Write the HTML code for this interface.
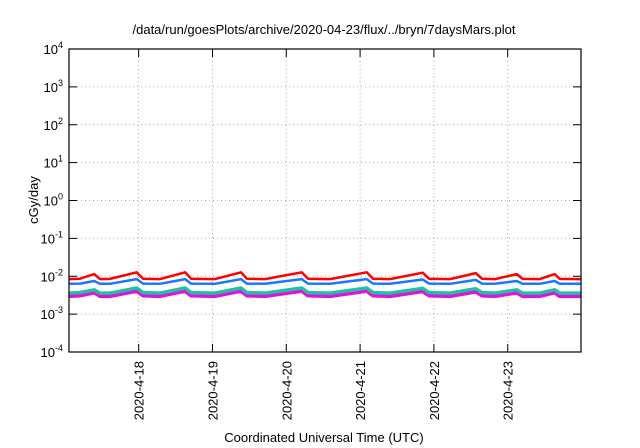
<!DOCTYPE html>
<html><head><meta charset="utf-8"><style>
body{margin:0;background:#fff;}
svg{display:block;font-family:"Liberation Sans",sans-serif;}
</style></head><body>
<svg id="chart" width="640" height="448" viewBox="0 0 640 448" xmlns="http://www.w3.org/2000/svg">
<text x="324" y="34" font-size="13" text-anchor="middle" fill="#000">/data/run/goesPlots/archive/2020-04-23/flux/../bryn/7daysMars.plot</text>
<text transform="translate(38,200) rotate(-90)" font-size="13" text-anchor="middle">cGy/day</text>
<text x="324" y="442" font-size="13" text-anchor="middle">Coordinated Universal Time (UTC)</text>
<g id="grid"></g><g id="series"></g><g id="axes"></g>
</svg>
<script>
const yDecades=[-4,-3,-2,-1,0,1,2,3,4];
const xTickDays=[18,19,20,21,22,23];
const xTickLabels=["2020-4-18","2020-4-19","2020-4-20","2020-4-21","2020-4-22","2020-4-23"];
const times=[17.056,17.205,17.398,17.476,17.611,17.973,18.058,18.289,18.631,18.709,19.034,19.386,19.467,19.711,20.209,20.294,20.592,21.089,21.175,21.405,21.848,21.933,22.218,22.566,22.652,22.828,23.122,23.203,23.434,23.637,23.705,23.993];
const redVals=[0.0084,0.0086,0.0114,0.0084,0.0085,0.0127,0.0086,0.0084,0.0127,0.0086,0.0084,0.0127,0.0086,0.0084,0.0127,0.0086,0.0084,0.0127,0.0086,0.0084,0.0124,0.0086,0.0084,0.0121,0.0086,0.0084,0.0114,0.0085,0.0084,0.0114,0.0085,0.0084];
const blueVals=[0.0063,0.0064,0.0075,0.0063,0.0063,0.0084,0.0064,0.0063,0.0084,0.0064,0.0063,0.0084,0.0064,0.0063,0.0084,0.0064,0.0063,0.0084,0.0064,0.0063,0.0082,0.0064,0.0063,0.0080,0.0064,0.0063,0.0075,0.0063,0.0063,0.0075,0.0063,0.0063];
const greenVals=[0.0036,0.0037,0.0044,0.0036,0.0036,0.0049,0.0037,0.0036,0.0049,0.0037,0.0036,0.0049,0.0037,0.0036,0.0049,0.0037,0.0036,0.0049,0.0037,0.0036,0.0048,0.0037,0.0036,0.0047,0.0037,0.0036,0.0044,0.0036,0.0036,0.0044,0.0036,0.0036];
const magentaVals=[0.0030,0.0031,0.0037,0.0030,0.0030,0.0041,0.0031,0.0030,0.0041,0.0031,0.0030,0.0041,0.0031,0.0030,0.0041,0.0031,0.0030,0.0041,0.0031,0.0030,0.0040,0.0031,0.0030,0.0039,0.0031,0.0030,0.0037,0.0030,0.0030,0.0037,0.0030,0.0030];

const L=69,R=581,T=49,B=352,X0=17.056,X1=23.993;
const NS="http://www.w3.org/2000/svg";
function xs(d){return L+(d-X0)/(X1-X0)*(R-L);}
function ys(v){return B-(Math.log10(v)+4)/8*(B-T);}
function mk(tag,attrs,parent){const e=document.createElementNS(NS,tag);for(const k in attrs)e.setAttribute(k,attrs[k]);parent.appendChild(e);return e;}
const grid=document.getElementById('grid'),axes=document.getElementById('axes'),ser=document.getElementById('series');
yDecades.forEach(p=>{
  const y=ys(Math.pow(10,p));
  if(p>-4&&p<4){const g=mk('line',{x1:L,x2:R,y1:y,y2:y,stroke:'#aaa','stroke-width':1,'stroke-dasharray':'1,3'},grid);
  
  }
  mk('line',{x1:L,x2:L+8,y1:y,y2:y,stroke:'#000'},axes);
  mk('line',{x1:R-8,x2:R,y1:y,y2:y,stroke:'#000'},axes);
  const t=mk('text',{x:63,y:y+5,'font-size':13,'text-anchor':'end'},axes);
  
  
  t.innerHTML='10<tspan dy="-6" font-size="9">'+p+'</tspan>';
});
xTickDays.forEach((d,i)=>{
  const x=xs(d);
  const g=mk('line',{x1:x,x2:x,y1:T,y2:B,stroke:'#aaa','stroke-width':1,'stroke-dasharray':'1,3'},grid);
  
  
  mk('line',{x1:x,x2:x,y1:B-8,y2:B,stroke:'#000'},axes);
  mk('line',{x1:x,x2:x,y1:T,y2:T+8,stroke:'#000'},axes);
  const t=mk('text',{transform:`translate(${x+5},${B+9}) rotate(-90)`,'font-size':13,'text-anchor':'end'},axes);
  
  
  t.textContent=xTickLabels[i];
});
const fr=mk('rect',{x:L,y:T,width:R-L,height:B-T,fill:'none',stroke:'#000','stroke-width':1.2},axes);


[[magentaVals,'#e010e0',4,'series-magenta'],[greenVals,'#20c0a0',3.5,'series-green'],[blueVals,'#1a78ff',2.5,'series-blue'],[redVals,'#ff0000',2.5,'series-red']].forEach(([vals,c,w,n])=>{
  const pts=times.map((t,i)=>xs(t).toFixed(1)+','+ys(vals[i]).toFixed(1)).join(' ');
  const pl=mk('polyline',{points:pts,fill:'none',stroke:c,'stroke-width':w,'stroke-linejoin':'round'},ser);
  
  
});
</script>
</body></html>
